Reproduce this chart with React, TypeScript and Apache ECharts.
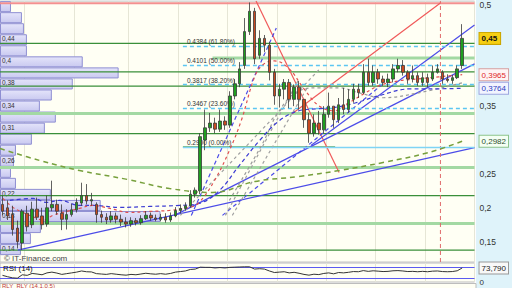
import React, { useEffect, useRef } from 'react';
import * as echarts from 'echarts';

// ---------- DATA ----------
const categories: string[] = Array.from({ length: 96 }, (_, i) => `S${i + 1}`);
const gridBreaks = [5, 15, 26, 36, 46, 56, 66, 76, 86];

// [open, close, low, high]
const ohlc: number[][] = [
  [0.205, 0.195, 0.189, 0.218], [0.2, 0.188, 0.182, 0.211], [0.19, 0.168, 0.159, 0.203], [0.17, 0.15, 0.14, 0.181],
  [0.148, 0.195, 0.138, 0.198], [0.192, 0.172, 0.165, 0.203], [0.175, 0.198, 0.17, 0.209], [0.198, 0.186, 0.182, 0.215],
  [0.188, 0.175, 0.168, 0.2], [0.176, 0.2, 0.172, 0.218], [0.2, 0.205, 0.195, 0.24], [0.205, 0.195, 0.19, 0.212],
  [0.192, 0.183, 0.167, 0.205], [0.183, 0.19, 0.168, 0.198], [0.19, 0.197, 0.187, 0.206], [0.197, 0.208, 0.193, 0.214],
  [0.207, 0.218, 0.203, 0.237], [0.218, 0.21, 0.205, 0.235], [0.21, 0.212, 0.203, 0.222], [0.205, 0.19, 0.178, 0.208],
  [0.19, 0.186, 0.178, 0.196], [0.186, 0.182, 0.176, 0.192], [0.182, 0.188, 0.178, 0.195], [0.188, 0.183, 0.177, 0.193],
  [0.183, 0.179, 0.173, 0.19], [0.179, 0.176, 0.171, 0.186], [0.176, 0.181, 0.172, 0.186], [0.181, 0.178, 0.174, 0.185],
  [0.178, 0.184, 0.175, 0.189], [0.184, 0.189, 0.182, 0.195], [0.189, 0.185, 0.181, 0.193], [0.185, 0.183, 0.18, 0.19],
  [0.183, 0.186, 0.18, 0.191], [0.186, 0.182, 0.178, 0.192], [0.182, 0.188, 0.179, 0.193], [0.188, 0.196, 0.186, 0.201],
  [0.196, 0.199, 0.192, 0.205], [0.199, 0.203, 0.196, 0.208], [0.203, 0.22, 0.2, 0.226], [0.22, 0.226, 0.215, 0.23],
  [0.225, 0.305, 0.22, 0.31], [0.3, 0.318, 0.285, 0.345], [0.318, 0.325, 0.312, 0.34], [0.325, 0.316, 0.31, 0.333],
  [0.316, 0.328, 0.312, 0.345], [0.328, 0.322, 0.315, 0.335], [0.322, 0.365, 0.318, 0.372], [0.365, 0.383, 0.36, 0.39],
  [0.383, 0.405, 0.378, 0.415], [0.41, 0.46, 0.405, 0.48], [0.46, 0.49, 0.455, 0.503], [0.49, 0.42, 0.412, 0.495],
  [0.425, 0.45, 0.42, 0.462], [0.45, 0.44, 0.43, 0.455], [0.44, 0.4, 0.388, 0.445], [0.4, 0.365, 0.352, 0.405],
  [0.365, 0.375, 0.348, 0.383], [0.375, 0.385, 0.36, 0.39], [0.385, 0.36, 0.347, 0.39], [0.36, 0.378, 0.35, 0.382],
  [0.378, 0.36, 0.345, 0.387], [0.36, 0.33, 0.318, 0.36], [0.33, 0.31, 0.296, 0.34], [0.31, 0.325, 0.305, 0.338],
  [0.325, 0.315, 0.308, 0.343], [0.315, 0.338, 0.31, 0.35], [0.338, 0.35, 0.333, 0.37], [0.35, 0.33, 0.318, 0.35],
  [0.33, 0.352, 0.325, 0.362], [0.352, 0.345, 0.338, 0.377], [0.345, 0.36, 0.34, 0.375], [0.36, 0.375, 0.355, 0.383],
  [0.375, 0.37, 0.362, 0.383], [0.37, 0.4, 0.368, 0.412], [0.4, 0.385, 0.38, 0.42], [0.385, 0.4, 0.38, 0.41],
  [0.4, 0.39, 0.383, 0.405], [0.39, 0.385, 0.38, 0.395], [0.385, 0.39, 0.378, 0.398], [0.39, 0.405, 0.385, 0.412],
  [0.405, 0.41, 0.4, 0.42], [0.41, 0.4, 0.395, 0.418], [0.4, 0.39, 0.383, 0.403], [0.39, 0.395, 0.385, 0.41],
  [0.395, 0.385, 0.38, 0.4], [0.385, 0.392, 0.38, 0.4], [0.392, 0.385, 0.378, 0.398], [0.39, 0.4, 0.387, 0.41],
  [0.4, 0.405, 0.398, 0.412], [0.4, 0.39, 0.383, 0.403], [0.39, 0.388, 0.385, 0.397], [0.388, 0.392, 0.383, 0.396],
  [0.392, 0.405, 0.39, 0.41], [0.41, 0.45, 0.405, 0.471],
];

const rsi: number[] = [
  35, 28, 22, 20, 38, 35, 45, 42, 38, 48,
  52, 47, 40, 44, 48, 52, 58, 54, 53, 44,
  42, 40, 44, 41, 38, 36, 40, 38, 42, 46,
  43, 41, 44, 41, 45, 52, 55, 58, 66, 68,
  78, 77, 77, 74, 76, 74, 77, 78, 79, 80,
  80, 68, 70, 68, 58, 50, 52, 54, 48, 51,
  46, 40, 36, 41, 39, 45, 48, 43, 50, 48,
  51, 55, 54, 60, 56, 59, 57, 55, 56, 59,
  60, 58, 55, 56, 54, 56, 54, 57, 58, 55,
  54, 55, 59, 73.79,
];

// moving averages, sampled [index, price]
const maRed: number[][] = [
  [0.1, 0.2138], [2.1, 0.2006], [4.1, 0.1932], [7, 0.1844], [8.2, 0.1815], [10.2, 0.1888], [12.2, 0.1932],
  [15.6, 0.1991], [18.3, 0.2035], [21.7, 0.1991], [25.7, 0.1932], [29.8, 0.1947], [33.8, 0.1962], [37.8, 0.2006],
  [39.8, 0.2079], [42.9, 0.2403], [45.9, 0.2844], [48.3, 0.3285], [51.1, 0.3947], [52.9, 0.4124], [55, 0.4168],
  [58, 0.405], [61, 0.3756], [64, 0.3506], [67.1, 0.3432], [70.1, 0.355], [73.1, 0.3682], [76.1, 0.38],
  [80.2, 0.3874], [84.2, 0.3903], [88.2, 0.3932], [93, 0.3965],
];
const maBlue: number[][] = [
  [1.5, 0.2109], [6.2, 0.2138], [9, 0.2079], [11.6, 0.2109], [15.6, 0.2035], [18.3, 0.2035], [23.7, 0.2006],
  [29.8, 0.202], [35.8, 0.2035], [39.8, 0.2065], [43.9, 0.2256], [47.9, 0.2624], [52, 0.2991], [56, 0.3285],
  [60, 0.3432], [64, 0.3462], [68.1, 0.3491], [71.5, 0.355], [76.1, 0.3653], [82.8, 0.3756], [88.2, 0.3756],
  [93, 0.3764],
];
const maGrey: number[][] = [
  [45.9, 0.2109], [52.5, 0.2932], [56, 0.3432], [60, 0.3726], [64, 0.3771], [68.1, 0.3771], [72.1, 0.3697],
  [77, 0.3624], [84.2, 0.3697], [93, 0.3844],
];
const maGreen: number[][] = [
  [-0.5, 0.2874], [7.6, 0.2697], [15.6, 0.255], [25.3, 0.2418], [33.8, 0.2285], [42.5, 0.2226], [51.1, 0.2388],
  [60, 0.2462], [68.1, 0.255], [77, 0.2668], [86.2, 0.2815], [93, 0.2982],
];

// horizontal support / resistance levels
const levelsDark = [0.4425, 0.4007, 0.3795, 0.3094, 0.218, 0.1374];
const levelsLight = [0.3393, 0.2594, 0.177];
const partialLevel = { from: 42.5, price: 0.421 };
const topResistance = 0.502;

// fibonacci retracement
const fibLevels = [0.4384, 0.4101, 0.3817, 0.3467, 0.29];
const fibPct = ['61.80%', '50.00%', '38.20%', '23.60%', '0.00%'];
const fibStart = 36.5;
const fibZeroGreenEnd = 67.3;

// drawn trend lines [x1, p1, x2, p2]
const redLines: number[][] = [[51.3, 0.505, 68.1, 0.252], [58.6, 0.3388, 88.6, 0.5021]];
const blueLines: number[][] = [[3.1, 0.1374, 95.5, 0.2888], [34.8, 0.1888, 95.5, 0.4124], [62.4, 0.2918, 95.5, 0.4697]];
const blueDashLines: number[][] = [[38.2, 0.1888, 55.4, 0.4653], [44.5, 0.1888, 77, 0.383]];
const greyDashLines: number[][] = [[45.1, 0.1888, 60, 0.3903], [46.5, 0.1888, 62, 0.3815], [36, 0.1888, 64, 0.4035]];
const markerVertical = 88.6;

// volume-at-price profile
const profileTop = 0.505;
const profileStep = 0.0163;
const profileVolumes = [10, 21, 23, 26, 26, 82, 118, 72, 51, 39, 55, 44, 31, 15, 13, 10, 15, 50, 100, 160, 40, 30, 20];
const profileLabels = ['', '', '', '0,44', '', '0,4', '', '0,38', '', '0,34', '', '0,31', '', '', '0,26', '', '', '0,22', '', '0,18', '', '', '0,14'];

const plainTicks = [0.15, 0.2, 0.25, 0.35, 0.5];

// ---------- OPTION ----------
function buildOption(): any {
  const N = categories.length;
  const xMin = -0.5;
  const xMax = N - 0.5;
  const lastClose = ohlc[ohlc.length - 1][1];
  const lastRed = maRed[maRed.length - 1][1];
  const lastBlue = maBlue[maBlue.length - 1][1];
  const lastGreen = maGreen[maGreen.length - 1][1];
  const lastRsi = rsi[rsi.length - 1];
  const font = 'Liberation Sans';

  const fmt = (v: number, d?: number) => (d !== undefined ? v.toFixed(d) : String(+v.toFixed(4))).replace('.', ',');

  const seg = (data: number[][], lineStyle: any, z: number) => ({
    type: 'line', xAxisIndex: 1, yAxisIndex: 0, data, symbol: 'none', silent: true, z,
    lineStyle, smooth: false, clip: true,
  });

  const series: any[] = [];

  // profile
  series.push({
    type: 'custom', xAxisIndex: 3, yAxisIndex: 0, z: 1, silent: true,
    data: profileVolumes.map((v, k) => [profileTop - k * profileStep, profileTop - (k + 1) * profileStep, v]),
    encode: { x: 2, y: 0 },
    renderItem: (params: any, api: any) => {
      const top = api.value(0), bot = api.value(1), vol = api.value(2);
      const a = api.coord([0, top]);
      const b = api.coord([vol, bot]);
      const children: any[] = [{
        type: 'rect',
        shape: { x: a[0] + 0.5, y: a[1] + 0.5, width: b[0] - a[0], height: Math.max(1, b[1] - a[1] - 1) },
        style: {
          fill: new echarts.graphic.LinearGradient(0, 0, 0, 1, [
            { offset: 0, color: '#e4e4fa' }, { offset: 1, color: '#c9c9f0' },
          ]),
          stroke: '#8e8ed2', lineWidth: 1,
        },
      }];
      const lab = profileLabels[params.dataIndex];
      if (lab) {
        children.push({
          type: 'text',
          style: { text: lab, x: a[0] + 2, y: (a[1] + b[1]) / 2 - 1, fontSize: 6.5, fill: '#333', verticalAlign: 'middle', align: 'left', fontFamily: font },
        });
      }
      return { type: 'group', children };
    },
  });

  // horizontal levels
  series.push(seg([[xMin, topResistance], [xMax, topResistance]], { color: '#f39090', width: 2 }, 2));
  levelsLight.forEach((p) => series.push(seg([[xMin, p], [xMax, p]], { color: '#a3d9a3', width: 3 }, 2)));
  series.push(seg([[partialLevel.from, partialLevel.price], [xMax, partialLevel.price]], { color: '#a3d9a3', width: 3 }, 2));
  levelsDark.forEach((p) => series.push(seg([[xMin, p], [xMax, p]], { color: '#3a8f3a', width: 1.3 }, 2)));

  // fibonacci
  series.push({
    type: 'line', xAxisIndex: 1, yAxisIndex: 0, data: [], silent: true, z: 3,
    markLine: {
      silent: true, symbol: 'none', animation: false,
      data: fibLevels.map((p, i) => [
        {
          coord: [fibStart, p],
          lineStyle: i === fibLevels.length - 1 ? { color: '#7fd4f5', width: 1.3, type: 'solid' } : { color: '#5cc6f2', width: 1.3, type: [4, 3] },
          label: {
            show: true, position: 'insideStartTop', distance: [4, 1],
            formatter: `${p.toFixed(4)} (${fibPct[i]})`, fontSize: 6.5, color: '#333', fontFamily: font,
          },
        },
        { coord: [xMax, p] },
      ]),
    },
  });
  series.push(seg([[fibStart, fibLevels[fibLevels.length - 1]], [fibZeroGreenEnd, fibLevels[fibLevels.length - 1]]], { color: '#5aa55a', width: 1.3 }, 3));

  // trend lines
  const addLines = (arr: number[][], style: any) => arr.forEach((l) => series.push(seg([[l[0], l[1]], [l[2], l[3]]], style, 4)));
  addLines(redLines, { color: '#f05a5a', width: 1.2 });
  addLines(blueLines, { color: '#4c4ce8', width: 1.2 });
  addLines(blueDashLines, { color: '#4c4ce8', width: 1.2, type: [4, 3] });
  addLines(greyDashLines, { color: '#a0a0a0', width: 1.2, type: [3, 3] });
  series.push(seg([[markerVertical, 0.12], [markerVertical, 0.505]], { color: '#e06a6a', width: 1, type: [4, 3] }, 4));

  // moving averages
  const ma = (data: number[][], color: string, dash: number[], width = 1.2) => ({
    type: 'line', xAxisIndex: 1, yAxisIndex: 0, data, symbol: 'none', smooth: 0.4, silent: true, z: 5,
    lineStyle: { color, width, type: dash },
  });
  series.push(ma(maGreen, '#77a03c', [5, 4], 1.5));
  series.push(ma(maGrey, '#9a9a9a', [3, 3]));
  series.push(ma(maBlue, '#3c3cd2', [4, 3]));
  series.push(ma(maRed, '#e05050', [3, 3]));

  // candles
  series.push({
    type: 'candlestick', xAxisIndex: 0, yAxisIndex: 0, data: ohlc, barWidth: 3, z: 6, silent: true,
    itemStyle: { color: '#1f9e1f', color0: '#c94a20', borderColor: '#3a3a3a', borderColor0: '#3a3a3a', borderWidth: 0.8 },
  });

  // RSI
  series.push({
    type: 'line', xAxisIndex: 2, yAxisIndex: 1, data: rsi, symbol: 'none', silent: true, z: 5,
    lineStyle: { color: '#333', width: 1 },
    markLine: {
      silent: true, symbol: 'none', label: { show: false }, animation: false,
      lineStyle: { color: '#5b5bf0', width: 1.2, type: 'solid' },
      data: [{ yAxis: 80 }, { yAxis: 20 }],
    },
  });

  const rich = {
    yel: { backgroundColor: '#f6cf12', color: '#111', fontWeight: 'bold', fontSize: 8, padding: [2, 3, 1, 2], borderColor: '#c9a400', borderWidth: 1, fontFamily: font },
    red: { backgroundColor: '#fff4f4', color: '#e02828', fontSize: 8, padding: [2, 2, 1, 2], borderColor: '#d8a0a0', borderWidth: 1, fontFamily: font },
    blu: { backgroundColor: '#f2f4ff', color: '#2b3cc0', fontSize: 8, padding: [2, 2, 1, 2], borderColor: '#9ea6e0', borderWidth: 1, fontFamily: font },
    grn: { backgroundColor: '#f4fff4', color: '#2f4f2f', fontSize: 8, padding: [2, 2, 1, 2], borderColor: '#8cc48c', borderWidth: 1, fontFamily: font },
    gry: { backgroundColor: '#f8f8f8', color: '#222', fontSize: 8, padding: [2, 2, 1, 2], borderColor: '#999', borderWidth: 1, fontFamily: font },
  };
  const near = (a: number, b: number) => Math.abs(a - b) < 1e-6;

  const splitInterval = (index: number) => gridBreaks.includes(index);

  return {
    animation: false,
    backgroundColor: 'transparent',
    graphic: [
      { type: 'rect', shape: { x: 476, y: 0, width: 36, height: 288 }, style: { fill: '#dff3fa' }, z: -10, silent: true },
      { type: 'rect', shape: { x: 0, y: 283.5, width: 476, height: 6 }, style: { fill: '#fffff4', stroke: '#bdbdbd' }, z: -5, silent: true },
      { type: 'text', left: 4, top: 254, style: { text: '© IT-Finance.com', fontSize: 8, fill: '#444', fontFamily: font }, z: 100, silent: true },
      { type: 'text', left: 3, top: 264, style: { text: 'RSI (14)', fontSize: 8, fill: '#111', fontFamily: font }, z: 100, silent: true },
      { type: 'text', left: 2, top: 283, style: { text: 'RLY  RLY (14,1,0,5)', fontSize: 6, fill: '#c03a3a', fontFamily: font }, z: 100, silent: true },
    ],
    grid: [
      { left: 0, top: 0, width: 476, height: 262, show: true, backgroundColor: '#fffff4', borderColor: '#c4c4c4', borderWidth: 1 },
      { left: 0, top: 263, width: 476, height: 19, show: true, backgroundColor: '#fffff4', borderColor: '#bcbcbc', borderWidth: 1 },
    ],
    xAxis: [
      {
        type: 'category', gridIndex: 0, data: categories, boundaryGap: true,
        axisLabel: { show: false }, axisLine: { show: false }, axisTick: { show: false },
        splitLine: { show: true, interval: splitInterval, lineStyle: { color: '#e6e6d6', width: 1 } },
      },
      { type: 'value', gridIndex: 0, min: xMin, max: xMax, show: false },
      {
        type: 'category', gridIndex: 1, data: categories, boundaryGap: true,
        axisLabel: { show: false }, axisLine: { show: false }, axisTick: { show: false },
        splitLine: { show: true, interval: splitInterval, lineStyle: { color: '#e6e6d6', width: 1 } },
      },
      { type: 'value', gridIndex: 0, min: 0, max: 476, show: false },
    ],
    yAxis: [
      {
        type: 'value', gridIndex: 0, min: 0.12, max: 0.505, position: 'right',
        splitLine: { show: false }, axisLine: { show: false },
        axisTick: { show: true, length: 4, customValues: plainTicks, lineStyle: { color: '#555' } },
        axisLabel: {
          customValues: [...plainTicks, lastClose, lastRed, lastBlue, lastGreen],
          margin: 5, fontSize: 8.5, color: '#333', fontFamily: font, rich,
          formatter: (v: number) => {
            if (near(v, lastClose)) return `{yel|${fmt(v)}}`;
            if (near(v, lastRed)) return `{red|${fmt(v)}}`;
            if (near(v, lastBlue)) return `{blu|${fmt(v)}}`;
            if (near(v, lastGreen)) return `{grn|${fmt(v)}}`;
            return fmt(v);
          },
        },
      },
      {
        type: 'value', gridIndex: 1, min: 0, max: 100, position: 'right',
        splitLine: { show: false }, axisLine: { show: false }, axisTick: { show: false },
        axisLabel: {
          customValues: [0, lastRsi], margin: 5, fontSize: 8, color: '#333', fontFamily: font, rich,
          formatter: (v: number) => (near(v, lastRsi) ? `{gry|${fmt(v, 3)}}` : fmt(v)),
        },
      },
    ],
    series,
  };
}

export default function App() {
  const ref = useRef<HTMLDivElement>(null);
  useEffect(() => {
    const chart = echarts.init(ref.current!, null, { renderer: 'svg' });
    chart.setOption(buildOption());
    return () => chart.dispose();
  }, []);
  return <div ref={ref} style={{ position: 'absolute', left: 0, top: 0, width: 512, height: 288 }} />;
}
